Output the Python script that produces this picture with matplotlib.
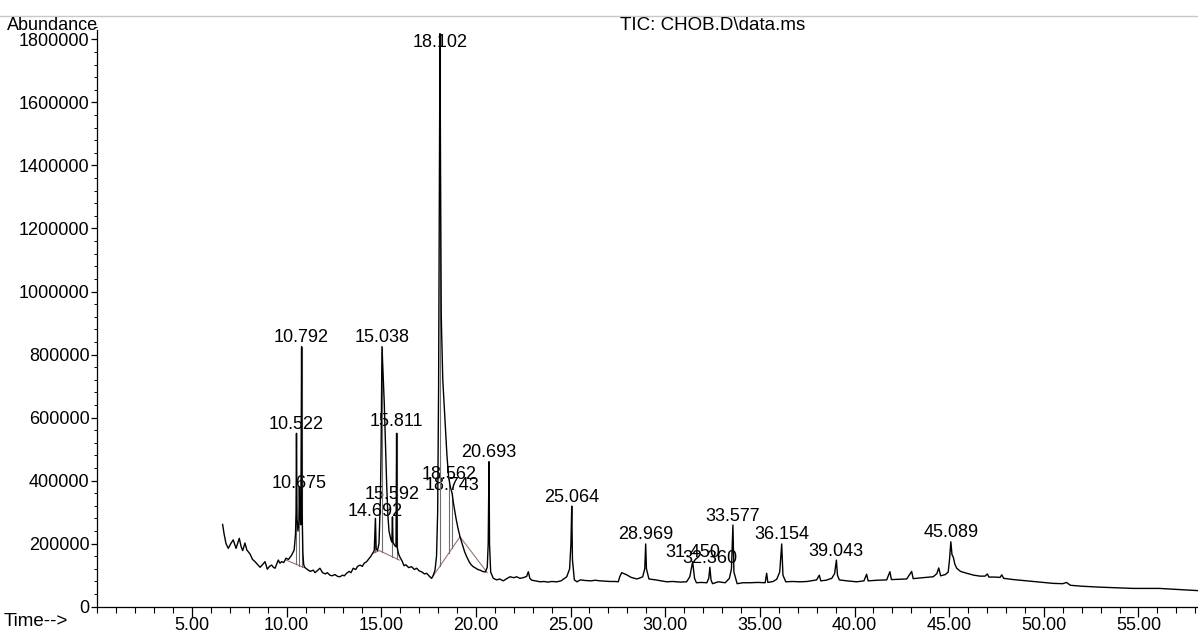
import numpy as np
import matplotlib
matplotlib.use("Agg")
import matplotlib.pyplot as plt
from matplotlib.ticker import MultipleLocator, FixedLocator, FuncFormatter
from matplotlib.lines import Line2D

plt.rcParams['font.family'] = ['Liberation Sans', 'DejaVu Sans']

# ---------------- data ----------------
time_min = [
    6.62, 6.70, 6.80, 6.92, 7.05, 7.18, 7.33, 7.50, 7.60, 7.68, 7.80, 7.90, 8.07, 8.20, 8.33,
    8.45, 8.60, 8.75, 8.86, 8.98, 9.10, 9.21, 9.30, 9.39, 9.56, 9.65, 9.74, 9.85, 9.97, 10.10,
    10.27, 10.40, 10.47, 10.50, 10.522, 10.55, 10.60, 10.65, 10.675, 10.70, 10.75, 10.792, 10.82,
    10.86, 10.90, 10.95, 11.10, 11.25, 11.41, 11.50, 11.60, 11.76, 11.90, 12.05, 12.15, 12.29,
    12.40, 12.55, 12.70, 12.82, 12.95, 13.05, 13.17, 13.30, 13.40, 13.52, 13.65, 13.75, 13.88,
    14.00, 14.10, 14.23, 14.35, 14.45, 14.55, 14.63, 14.692, 14.73, 14.80, 14.88, 14.95, 14.99,
    15.038, 15.08, 15.16, 15.23, 15.29, 15.35, 15.41, 15.50, 15.56, 15.592, 15.62, 15.70, 15.78,
    15.811, 15.84, 15.90, 15.99, 16.10, 16.20, 16.30, 16.45, 16.60, 16.75, 16.87, 17.00, 17.15,
    17.28, 17.40, 17.55, 17.66, 17.75, 17.84, 17.92, 17.98, 18.03, 18.07, 18.102, 18.13, 18.17,
    18.25, 18.37, 18.47, 18.562, 18.65, 18.743, 18.81, 18.95, 19.05, 19.16, 19.30, 19.40, 19.51,
    19.65, 19.75, 19.86, 20.00, 20.10, 20.22, 20.35, 20.50, 20.60, 20.65, 20.693, 20.72, 20.78,
    20.92, 21.10, 21.25, 21.45, 21.60, 21.80, 22.00, 22.15, 22.33, 22.50, 22.68, 22.77, 22.85,
    22.95, 23.15, 23.39, 23.60, 23.80, 24.00, 24.27, 24.50, 24.80, 24.95, 25.02, 25.064, 25.10,
    25.20, 25.34, 25.52, 25.80, 26.10, 26.30, 26.56, 26.80, 27.10, 27.35, 27.52, 27.60, 27.70,
    27.85, 27.97, 28.20, 28.50, 28.70, 28.81, 28.92, 28.969, 29.01, 29.14, 29.50, 29.80, 30.08,
    30.40, 30.80, 31.13, 31.30, 31.45, 31.55, 31.65, 31.90, 32.20, 32.30, 32.36, 32.42, 32.50,
    32.80, 33.17, 33.39, 33.50, 33.577, 33.63, 33.80, 34.10, 34.48, 34.90, 35.28, 35.36, 35.42,
    35.70, 35.89, 36.05, 36.154, 36.22, 36.37, 36.70, 37.12, 37.50, 38.00, 38.14, 38.22, 38.50,
    38.80, 38.95, 39.043, 39.10, 39.20, 39.60, 40.12, 40.50, 40.64, 40.72, 41.20, 41.70, 41.87,
    41.95, 42.40, 42.76, 43.02, 43.10, 43.60, 44.16, 44.35, 44.45, 44.55, 44.80, 44.95, 45.02,
    45.089, 45.15, 45.22, 45.30, 45.40, 45.60, 45.93, 46.30, 46.63, 46.90, 47.02, 47.10, 47.40,
    47.69, 47.78, 47.88, 48.40, 49.10, 49.80, 50.50, 51.00, 51.20, 51.40, 52.00, 52.97, 53.80,
    54.73, 55.50, 56.10, 57.00, 58.15,
]
abundance = [
    261000, 230000, 200000, 185000, 200000, 212000, 185000, 217000, 190000, 178000, 202000, 180000, 167000, 150000, 143000,
    135000, 125000, 135000, 143000, 119000, 128000, 132000, 125000, 122000, 148000, 138000, 143000, 140000, 154000, 150000,
    164000, 180000, 230000, 300000, 550000, 280000, 240000, 270000, 380000, 300000, 260000, 825000, 300000,
    170000, 135000, 125000, 118000, 112000, 116000, 108000, 113000, 122000, 108000, 104000, 108000, 100000,
    98000, 102000, 96000, 95000, 100000, 98000, 106000, 112000, 108000, 122000, 118000, 128000, 132000,
    128000, 138000, 143000, 152000, 160000, 170000, 178000, 280000, 185000, 178000, 200000, 330000, 487000,
    825000, 760000, 645000, 500000, 381000, 290000, 240000, 215000, 205000, 285000, 205000, 195000, 190000,
    550000, 190000, 170000, 157000, 145000, 130000, 133000, 124000, 127000, 118000, 122000, 114000, 110000,
    104000, 106000, 96000, 90000, 100000, 116000, 160000, 300000, 700000, 1300000, 1818000, 1400000, 920000,
    720000, 592000, 480000, 410000, 380000, 360000, 330000, 280000, 250000, 222000, 195000, 175000, 159000,
    142000, 133000, 127000, 122000, 118000, 116000, 112000, 110000, 125000, 200000, 460000, 200000, 110000,
    90000, 85000, 88000, 82000, 88000, 95000, 92000, 95000, 90000, 92000, 96000, 111000, 90000,
    84000, 82000, 79000, 80000, 78000, 80000, 79000, 82000, 95000, 120000, 200000, 319000, 150000,
    85000, 79000, 85000, 83000, 82000, 84000, 82000, 81000, 80000, 80000, 79000, 95000, 108000,
    104000, 101000, 93000, 88000, 92000, 95000, 120000, 199000, 120000, 88000, 85000, 82000, 79000,
    80000, 78000, 79000, 95000, 143000, 90000, 76000, 77000, 76000, 90000, 125000, 85000, 73000,
    79000, 76000, 90000, 120000, 259000, 110000, 73000, 76000, 76000, 77000, 76000, 106000, 77000,
    80000, 87000, 110000, 199000, 100000, 79000, 80000, 79000, 80000, 85000, 100000, 82000, 84000,
    90000, 105000, 148000, 100000, 85000, 82000, 79000, 82000, 103000, 82000, 84000, 85000, 111000,
    86000, 87000, 88000, 112000, 89000, 92000, 95000, 105000, 123000, 98000, 102000, 110000, 150000,
    206000, 165000, 157000, 135000, 122000, 112000, 106000, 100000, 97000, 97000, 104000, 94000, 94000,
    93000, 101000, 90000, 86000, 82000, 78000, 74000, 73000, 77000, 68000, 65000, 62000, 60000,
    58000, 58000, 58000, 55000, 51000,
]

# labelled peaks: retention time and apex abundance
peak_times = [10.522, 10.675, 10.792, 14.692, 15.038, 15.592, 15.811, 18.102, 18.562, 18.743,
              20.693, 25.064, 28.969, 31.450, 32.360, 33.577, 36.154, 39.043, 45.089]
peak_apex = [550000, 380000, 825000, 280000, 825000, 285000, 550000, 1818000, 410000, 360000,
             460000, 319000, 199000, 143000, 125000, 259000, 199000, 148000, 206000]

# integration baselines (time, abundance)
base1_t = [9.97, 10.88]
base1_v = [148000, 125000]
base2_t = [14.60, 14.90, 15.95]
base2_v = [170000, 178000, 148000]
base3_t = [17.66, 19.16, 20.60]
base3_v = [90000, 222000, 108000]

y_ticks = [0, 200000, 400000, 600000, 800000, 1000000, 1200000, 1400000, 1600000, 1800000]
x_ticks = [5, 10, 15, 20, 25, 30, 35, 40, 45, 50, 55]

# ---------------- layout / style ----------------
W, H, DPI = 1198, 633, 100
fig = plt.figure(figsize=(W / DPI, H / DPI), dpi=DPI)
fig.patch.set_facecolor('white')
ax_left, ax_right, ax_bottom, ax_top = 97.3, 1198.0, 606.7, 16.0
ax = fig.add_axes([ax_left / W, (H - ax_bottom) / H, (ax_right - ax_left) / W, (ax_bottom - ax_top) / H])
ax.set_facecolor('white')

px_per_min = 18.93
val_per_px = 3172.6
ax.set_xlim(0, (ax_right - ax_left) / px_per_min)
ax.set_ylim(0, (ax_bottom - ax_top) * val_per_px)

FS = 13
trace_lw = 1.0

ax.plot(time_min, abundance, color='black', lw=trace_lw, zorder=3)

bcol = '#9a7470'
for bt, bv in [(base1_t, base1_v), (base2_t, base2_v), (base3_t, base3_v)]:
    ax.plot(bt, bv, color=bcol, lw=0.8, zorder=2)

# drop lines from baselines up to the apex
drop_col = '#6e6e6e'
for t, v in zip(peak_times, peak_apex):
    for bt, bv in [(base1_t, base1_v), (base2_t, base2_v), (base3_t, base3_v)]:
        if bt[0] <= t <= bt[-1]:
            b = np.interp(t, bt, bv)
            ax.plot([t, t], [b, v], color=drop_col, lw=0.8, zorder=2)

# peak labels (offset in pixels above apex)
offsets = {18.102: -9.3, 15.592: 22.7, 10.675: 3.6, 18.562: 3.2, 18.743: 7.5,
           15.811: 11.8, 14.692: 7.4}
for t, v in zip(peak_times, peak_apex):
    dy = offsets.get(t, 9.0)
    ax.annotate(f"{t:.3f}", xy=(t, v), xytext=(0, dy), textcoords='offset pixels',
                ha='center', va='center', fontsize=FS, color='black', zorder=1)

# axes styling
for s in ['top', 'right']:
    ax.spines[s].set_visible(False)
ax.spines['left'].set_bounds(0, 1830000)
for s in ['left', 'bottom']:
    ax.spines[s].set_linewidth(0.9)
    ax.spines[s].set_color('black')

ax.xaxis.set_major_locator(FixedLocator(x_ticks))
ax.xaxis.set_minor_locator(MultipleLocator(1))
ax.xaxis.set_major_formatter(FuncFormatter(lambda x, p: f"{x:.2f}"))
ax.yaxis.set_major_locator(FixedLocator(y_ticks))
ax.yaxis.set_minor_locator(MultipleLocator(40000))
ax.yaxis.set_major_formatter(FuncFormatter(lambda y, p: f"{int(round(y))}"))
ax.tick_params(axis='x', which='major', length=7, width=0.9, pad=0.5, labelsize=FS)
ax.tick_params(axis='x', which='minor', length=4.5, width=0.8)
ax.tick_params(axis='y', which='major', length=4, width=0.9, pad=1.5, labelsize=FS)
ax.tick_params(axis='y', which='minor', length=2.5, width=0.7)

# top frame line and texts
fig.add_artist(Line2D([0, 1], [1 - 16 / H, 1 - 16 / H], color='#c9c9bf', lw=1.0))
fig.text(98 / W, 1 - 25 / H, 'Abundance', ha='right', va='center', fontsize=FS)
fig.text(620 / W, 1 - 26 / H, 'TIC: CHOB.D\\data.ms', ha='left', va='center', fontsize=13.5)
fig.text(68 / W, 1 - 622 / H, 'Time-->', ha='right', va='center', fontsize=13.5)

fig.savefig('out.png', dpi=DPI, facecolor='white')
